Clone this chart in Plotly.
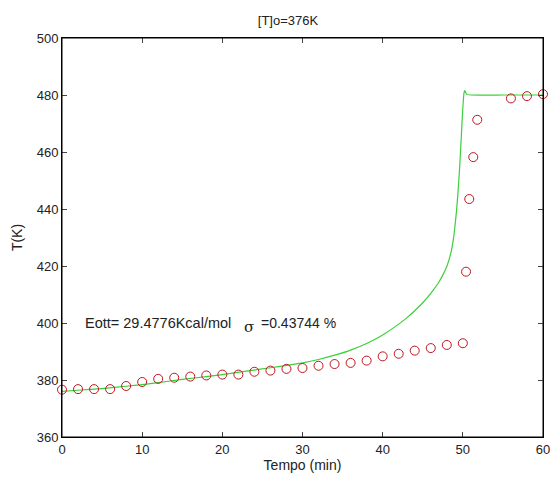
import plotly.graph_objects as go

# Experimental data (circles)
t_exp = [0, 2, 4, 6, 8, 10, 12, 14, 16, 18, 20, 22, 24, 26, 28, 30, 32, 34, 36, 38,
         40, 42, 44, 46, 48, 50, 50.4, 50.8, 51.3, 51.8, 56, 58, 60]
T_exp = [376.6, 376.8, 376.8, 376.8, 377.9, 379.3, 380.4, 380.8, 381.2, 381.6, 381.9,
         381.9, 382.9, 383.3, 383.9, 384.2, 385.0, 385.6, 386.0, 386.8,
         388.3, 389.2, 390.3, 391.2, 392.3, 392.9, 418.0, 443.5, 458.2, 471.3, 478.8, 479.6, 480.3]

# Model curve (green line)
t_mod = [0, 2, 5, 8, 10, 12, 15, 18, 20, 23, 26, 28, 30, 32, 34, 36, 38, 40, 42, 43, 44,
         45, 46, 47, 47.5, 48, 48.5, 48.8, 49, 49.2, 49.4, 49.6, 49.8, 50, 50.15, 50.25,
         50.45, 51, 55, 60]
T_mod = [376.0, 376.4, 377.0, 377.8, 378.4, 379.1, 380.2, 381.2, 381.9, 383.1, 384.3,
         385.1, 386.0, 387.2, 388.7, 390.5, 392.8, 395.8, 399.6, 401.8, 404.3,
         407.1, 410.4, 414.3, 416.8, 419.8, 424.5, 429.0, 433.5, 439.0, 446.0, 454.5,
         465.0, 475.5, 480.8, 481.5, 480.3, 480.0, 480.0, 480.0]

x_ticks = [0, 10, 20, 30, 40, 50, 60]
y_ticks = [360, 380, 400, 420, 440, 460, 480, 500]

W, H = 550, 478

fig = go.Figure()
fig.add_trace(go.Scatter(x=t_mod, y=T_mod, mode="lines",
                         line=dict(color="#3ccf3c", width=1.2, shape="spline", smoothing=0.4),
                         showlegend=False))
fig.add_trace(go.Scatter(x=t_exp, y=T_exp, mode="markers", cliponaxis=False,
                         marker=dict(symbol="circle-open", size=9,
                                     color="#c0161d", line=dict(width=1)),
                         showlegend=False))

font = dict(family="Liberation Sans, Arial, sans-serif", size=13, color="#222")

fig.update_layout(
    width=W, height=H,
    margin=dict(l=62, r=7, t=38, b=41),
    paper_bgcolor="white", plot_bgcolor="white",
    font=font,
    title=dict(text="[T]o=376K", x=288 / W, xanchor="center",
               y=1 - 20 / H, yanchor="middle", font=dict(size=13, color="#222")),
    xaxis=dict(range=[0, 60], tickvals=x_ticks, ticks="inside", ticklen=5,
               showline=True, linecolor="black", linewidth=1, mirror="ticks",
               showgrid=False, zeroline=False, tickfont=dict(size=13), automargin=False,
               ticklabeloverflow="allow",
               title=dict(text="Tempo (min)", standoff=1, font=dict(size=14))),
    yaxis=dict(range=[360, 500], tickvals=y_ticks, ticks="inside", ticklen=5,
               showline=True, linecolor="black", linewidth=1, mirror="ticks",
               showgrid=False, zeroline=False, tickfont=dict(size=13), automargin=False,
               ticklabeloverflow="allow",
               title=dict(text="T(K)", standoff=10, font=dict(size=14))),
)

# frame around the axes box
fig.add_shape(type="rect", xref="x domain", yref="y domain", x0=0, x1=1, y0=0, y1=1,
              line=dict(color="black", width=1), layer="above")

fig.add_annotation(x=2.6, y=400, xref="x", yref="y", text="Eott= 29.4776Kcal/mol",
                   showarrow=False, xanchor="left", yanchor="middle",
                   font=dict(size=14.5, color="#222"))
fig.add_annotation(x=22.5, y=398.6, xref="x", yref="y", text="σ",
                   showarrow=False, xanchor="left", yanchor="middle",
                   font=dict(size=15, color="#222", family="DejaVu Serif, serif"))
fig.add_annotation(x=24.6, y=400, xref="x", yref="y", text="=0.43744 %",
                   showarrow=False, xanchor="left", yanchor="middle",
                   font=dict(size=14, color="#222"))

fig.write_html("out.html", config={"displayModeBar": False},
               post_script="document.body.style.margin='0px';")
